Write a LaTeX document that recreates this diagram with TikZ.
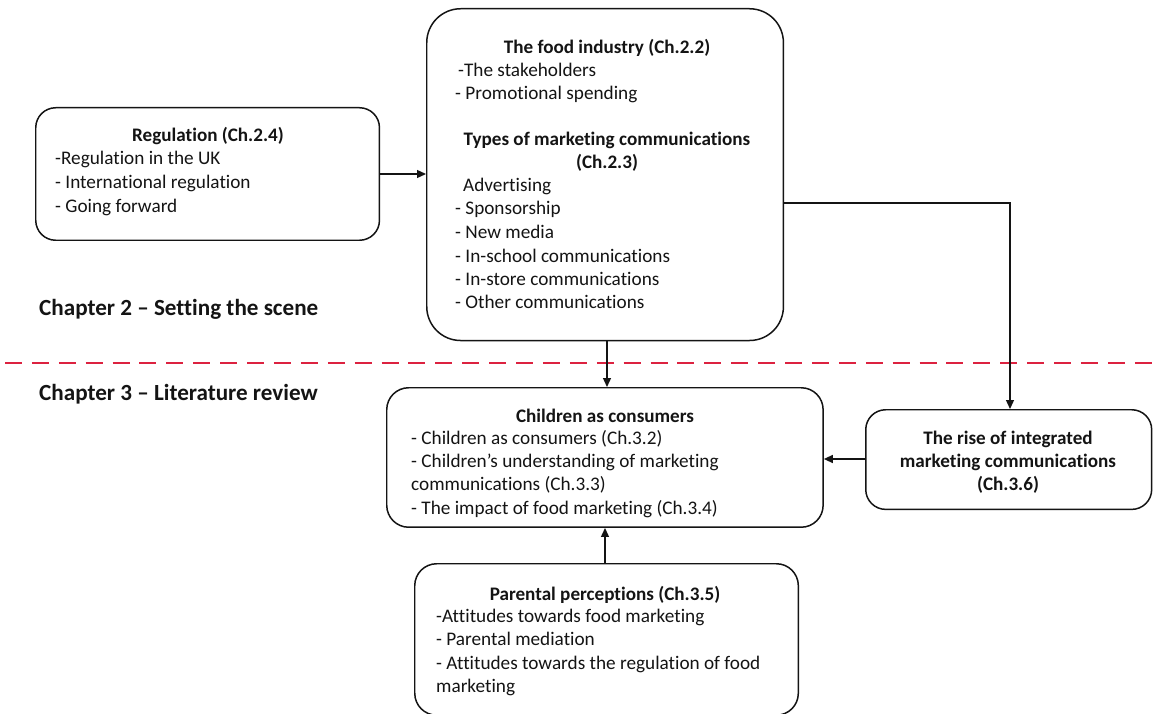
\documentclass[tikz,border=0pt]{standalone}
\usepackage{fontspec}
\setmainfont{Carlito}[Ligatures=NoCommon]
\usetikzlibrary{arrows.meta}
\definecolor{chapred}{RGB}{220,34,64}
\definecolor{ink}{RGB}{20,20,20}
\tikzset{
  box/.style={draw=ink, line width=1.5pt, rounded corners=#1, inner sep=0pt,
              anchor=north west},
  ttl/.style={font=\fontsize{19.2}{22}\selectfont\bfseries, text=ink, anchor=base, inner sep=0pt},
  line/.style={font=\fontsize{19.3}{22}\selectfont, text=ink, anchor=base west, inner sep=0pt},
  chap/.style={font=\fontsize{23.2}{27}\selectfont\bfseries, text=ink, anchor=base west, inner sep=0pt},
  conn/.style={draw=ink, line width=1.3pt, -{Triangle[length=9pt,width=8pt]}},
}
\begin{document}
\begin{tikzpicture}[x=1bp,y=-1bp]
\useasboundingbox[fill=white] (0,0) rectangle (1158,714);

% boxes
\node[box=20pt, minimum width=345, minimum height=133] (reg) at (35,107) {};
\node[box=34pt, minimum width=358, minimum height=333] (food) at (426,8) {};
\node[box=22pt, minimum width=438, minimum height=140] (kids) at (386,387) {};
\node[box=22pt, minimum width=385, minimum height=152] (par) at (414,563) {};
\node[box=20pt, minimum width=287, minimum height=100] (imc) at (865,409) {};

% regulation
\node[ttl] (reg-t) at (208,142) {Regulation (Ch.2.4)};
\node[line] (reg-1) at (55,165) {-Regulation in the UK};
\node[line] (reg-2) at (55,189) {- International regulation};
\node[line] (reg-3) at (55,213) {- Going forward};

% food industry
\node[ttl] (food-t) at (607,54) {The food industry (Ch.2.2)};
\node[line] (food-1) at (458,77) {-The stakeholders};
\node[line] (food-2) at (455,100) {- Promotional spending};
\node[ttl] (food-t2) at (607,146) {Types of marketing communications};
\node[ttl] (food-t3) at (607,169) {(Ch.2.3)};
\node[line] (food-3) at (463,192) {Advertising};
\node[line] (food-4) at (455,215) {- Sponsorship};
\node[line] (food-5) at (455,238) {- New media};
\node[line] (food-6) at (455,262) {- In-school communications};
\node[line] (food-7) at (455,285) {- In-store communications};
\node[line] (food-8) at (455,308) {- Other communications};

% children
\node[ttl] (kids-t) at (605,422) {Children as consumers};
\node[line] (kids-1) at (411,444) {- Children as consumers (Ch.3.2)};
\node[line] (kids-2) at (411,467) {- Children's understanding of marketing};
\node[line] (kids-3) at (411,490) {communications (Ch.3.3)};
\node[line] (kids-4) at (411,514) {- The impact of food marketing (Ch.3.4)};

% parents
\node[ttl] (par-t) at (605,600) {Parental perceptions (Ch.3.5)};
\node[line] (par-1) at (436,622) {-Attitudes towards food marketing};
\node[line] (par-2) at (436,645) {- Parental mediation};
\node[line] (par-3) at (436,669) {- Attitudes towards the regulation of food};
\node[line] (par-4) at (436,692) {marketing};

% integrated marketing
\node[ttl] (imc-1) at (1008,444) {The rise of integrated};
\node[ttl] (imc-2) at (1008,467) {marketing communications};
\node[ttl] (imc-3) at (1008,490) {(Ch.3.6)};

% chapter labels and divider
\node[chap] (ch2) at (39,315) {Chapter 2 -- Setting the scene};
\node[chap] (ch3) at (39,400) {Chapter 3 -- Literature review};
\coordinate (divL) at (5,363);
\coordinate (divR) at (1152,363);
\draw[chapred, line width=2.8pt, dash pattern=on 17pt off 10pt] (divL) -- (divR);

% connectors
\draw[conn] (reg.east |- 0,174) -- (food.west |- 0,174);
\draw[conn] (food.south -| 607,0) -- (kids.north -| 607,0);
\coordinate (bend) at (1010,203);
\draw[conn] (food.east |- bend) -- (bend) -- (imc.north -| bend);
\draw[conn] (imc.west |- 0,459) -- (kids.east |- 0,459);
\draw[conn] (par.north -| 605,0) -- (kids.south -| 605,0);
\end{tikzpicture}
\end{document}
